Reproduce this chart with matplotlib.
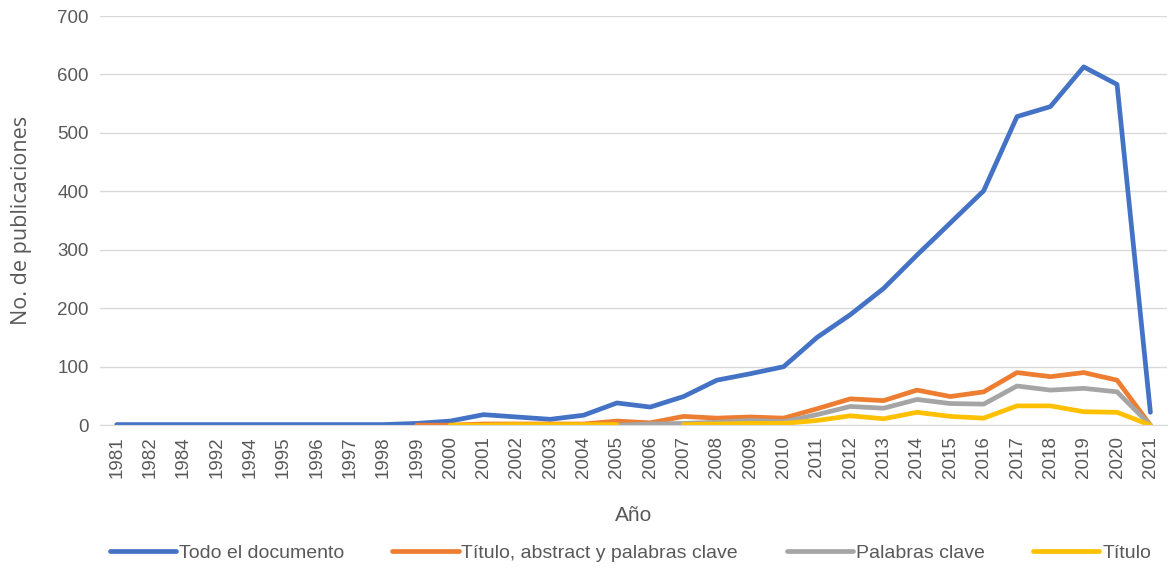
import numpy as np
import matplotlib.pyplot as plt

# years on the category axis (not continuous)
years = ["1981", "1982", "1984", "1992", "1994", "1995", "1996", "1997", "1998",
         "1999", "2000", "2001", "2002", "2003", "2004", "2005", "2006", "2007",
         "2008", "2009", "2010", "2011", "2012", "2013", "2014", "2015", "2016",
         "2017", "2018", "2019", "2020", "2021"]

nan = np.nan
todo_doc = [1, 1, 1, 1, 1, 1, 1, 1, 1,
            3, 7, 18, 14, 10, 17, 38, 31, 49,
            77, 88, 100, 150, 189, 234, 291, 346, 401,
            528, 545, 613, 583, 22]
titulo_abs = [nan, nan, nan, nan, nan, nan, nan, nan, nan,
              0, 0, 2, 2, 2, 2, 7, 4, 15,
              12, 14, 12, 28, 45, 42, 60, 49, 57,
              90, 83, 90, 77, 0]
palabras = [nan, nan, nan, nan, nan, nan, nan, nan, nan,
            nan, nan, nan, nan, nan, nan, 0, 2, 3,
            5, 8, 6, 18, 32, 29, 44, 37, 36,
            67, 60, 63, 57, 0]
titulo = [nan, nan, nan, nan, nan, nan, nan, nan, nan,
          nan, 0, 0, 1, 1, 1, 1, nan, 1,
          2, 3, 3, 8, 16, 11, 22, 15, 12,
          33, 33, 23, 22, 0]

series = [
    ("Todo el documento", todo_doc, "#4472C4"),
    ("Título, abstract y palabras clave", titulo_abs, "#ED7D31"),
    ("Palabras clave", palabras, "#A5A5A5"),
    ("Título", titulo, "#FFC000"),
]

TXT = "#595959"
plt.rcParams["font.family"] = ["Liberation Sans Narrow", "Liberation Sans", "DejaVu Sans"]

fig = plt.figure(figsize=(11.7, 5.73), dpi=100)
ax = fig.add_axes([0.0855, 0.258, 0.912, 0.714])

x = np.arange(len(years))
for name, vals, col in series:
    ax.plot(x, vals, color=col, lw=3.4, label=name, solid_capstyle="round",
            solid_joinstyle="round")

ax.set_xlim(-0.5, len(years) - 0.5)
ax.set_ylim(0, 700)
ax.set_yticks(range(0, 701, 100))
ax.set_xticks(x)
ax.set_xticklabels(years, rotation=90)
ax.grid(axis="y", color="#D9D9D9", lw=1)
ax.set_axisbelow(True)
for s in ax.spines.values():
    s.set_visible(False)
ax.spines["bottom"].set_visible(True)
ax.spines["bottom"].set_color("#D9D9D9")
ax.tick_params(length=0, labelsize=13.5, colors=TXT, pad=8)

ax.set_xlabel("Año", fontsize=15, color=TXT, labelpad=20)
ax.set_ylabel("No. de publicaciones", fontsize=15.5, color=TXT, labelpad=18,
              family=["Open Sans", "DejaVu Sans"])

ax.legend(loc="center", bbox_to_anchor=(0.497, -0.313), ncol=4, frameon=False,
          fontsize=14, handlelength=3.4, handletextpad=0.15, columnspacing=2.5,
          labelcolor=TXT)

fig.savefig("out.png", dpi=100)
